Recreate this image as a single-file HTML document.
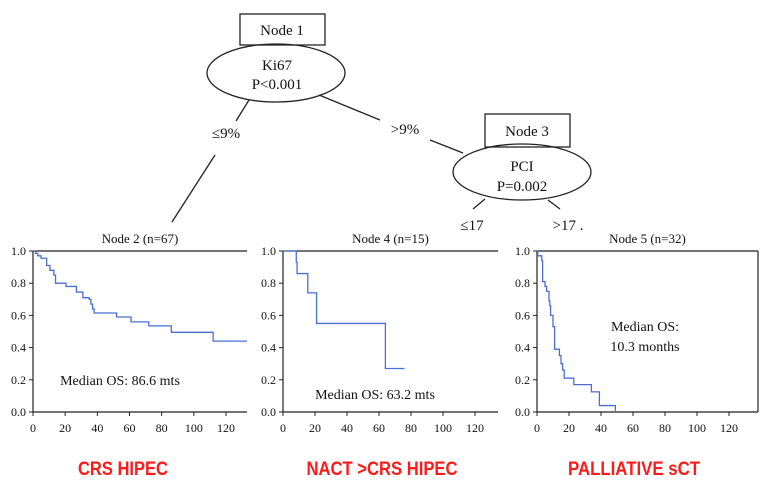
<!DOCTYPE html>
<html><head><meta charset="utf-8"><style>
html,body{margin:0;padding:0;background:#fff;}
svg{display:block;font-family:"Liberation Serif",serif;}
</style></head><body>
<svg id="chart" width="768" height="490" viewBox="0 0 768 490" xmlns="http://www.w3.org/2000/svg">
<g stroke="#222" fill="none" stroke-width="1.3">
  <rect x="240" y="14" width="85" height="31" fill="#fff"/>
  <ellipse cx="276" cy="73" rx="69" ry="29"/>
  <line x1="249" y1="100" x2="236" y2="121"/>
  <line x1="215" y1="155" x2="172" y2="222"/>
  <line x1="319" y1="95" x2="380" y2="120"/>
  <line x1="430" y1="140" x2="463" y2="153"/>
  <rect x="485" y="114" width="85" height="33" fill="#fff"/>
  <ellipse cx="522" cy="172" rx="69" ry="28"/>
  <line x1="485" y1="199" x2="473" y2="209"/>
  <line x1="548" y1="200" x2="560" y2="209"/>
</g>
<g font-size="15" fill="#111" text-anchor="middle">
  <text x="282" y="35">Node 1</text>
  <text x="277" y="70">Ki67</text>
  <text x="277" y="89">P&lt;0.001</text>
  <text x="226" y="138">≤9%</text>
  <text x="405" y="134">&gt;9%</text>
  <text x="527" y="136">Node 3</text>
  <text x="522" y="171">PCI</text>
  <text x="522" y="191">P=0.002</text>
  <text x="472" y="230">≤17</text>
  <text x="568" y="230">&gt;17 .</text>
</g>
<g id="panels"></g>
<g font-family="'Liberation Sans',sans-serif" font-weight="bold" font-size="19" fill="#ff1a1a" text-anchor="middle">
  <text x="123" y="475" textLength="90" lengthAdjust="spacingAndGlyphs">CRS HIPEC</text>
  <text x="382" y="475" textLength="151" lengthAdjust="spacingAndGlyphs">NACT &gt;CRS HIPEC</text>
  <text x="634" y="475" textLength="132" lengthAdjust="spacingAndGlyphs">PALLIATIVE sCT</text>
</g>
</svg>
<script>
const xTicks = [0,20,40,60,80,100,120];
const yTicks = [0,0.2,0.4,0.6,0.8,1.0];
const yTickLabels = ["0.0","0.2","0.4","0.6","0.8","1.0"];
const node2Times = [0,1.5,3,5,8.5,10.5,13,14,20.5,27,31,35,36,37,38,52,61,72,86,112,133];
const node2Surv  = [1,0.985,0.97,0.955,0.91,0.88,0.85,0.80,0.78,0.745,0.71,0.70,0.67,0.64,0.615,0.59,0.56,0.535,0.495,0.44,0.44];
const node4Times = [0,8.3,8.8,15.5,21,64,76];
const node4Surv  = [1,0.93,0.86,0.74,0.55,0.27,0.27];
const node5Times = [0,0.5,3,3.5,5,6,7.5,8,8.5,10,11,14,15,16,17,23,34,39,49];
const node5Surv  = [1,0.97,0.94,0.81,0.78,0.75,0.69,0.66,0.6,0.53,0.39,0.35,0.30,0.26,0.21,0.17,0.125,0.04,0.0];
const panelTitles = ["Node 2 (n=67)","Node 4 (n=15)","Node 5 (n=32)"];

const NS="http://www.w3.org/2000/svg";
const root=document.getElementById('panels');
function mk(tag,attrs,parent,txt){const e=document.createElementNS(NS,tag);for(const k in attrs)e.setAttribute(k,attrs[k]);if(txt!==undefined)e.textContent=txt;parent.appendChild(e);return e;}
const panels=[
 {x0:33,x120:226,right:247,times:node2Times,surv:node2Surv,name:'node-2',box:false,med:["Median OS: 86.6 mts"],mx:120,my:385},
 {x0:283,x120:475,right:498,times:node4Times,surv:node4Surv,name:'node-4',box:false,med:["Median OS: 63.2 mts"],mx:375,my:399},
 {x0:537,x120:729,right:758,times:node5Times,surv:node5Surv,name:'node-5',box:true,med:["Median OS:","10.3 months"],mx:645,my:331},
];
const yTop=251, yBot=412;
panels.forEach((p,i)=>{
  const g=mk('g',{},root);
  
  
  const sx=t=>p.x0+(t/120)*(p.x120-p.x0);
  const sy=v=>yBot-v*(yBot-yTop);
  const title=mk('text',{x:(p.x0+p.right)/2,y:yTop-8,'font-size':13,'text-anchor':'middle',fill:'#111'},g,panelTitles[i]);
  
  
  const yAxis=mk('line',{x1:p.x0,y1:yTop,x2:p.x0,y2:yBot,stroke:'#222','stroke-width':1.2},g);
  
  
  const xAxis=mk('line',{x1:p.x0,y1:yBot,x2:p.right,y2:yBot,stroke:'#222','stroke-width':1.2},g);
  
  
  const top=mk('line',{x1:p.x0,y1:yTop,x2:p.right,y2:yTop,stroke:'#222','stroke-width':1.2},g);
  
  
  if(p.box){const r=mk('line',{x1:p.right,y1:yTop,x2:p.right,y2:yBot,stroke:'#222','stroke-width':1.2},g);
    
    }
  yTicks.forEach((v,j)=>{
    mk('line',{x1:p.x0-4,y1:sy(v),x2:p.x0,y2:sy(v),stroke:'#222'},g);
    const t=mk('text',{x:p.x0-7,y:sy(v)+4,'font-size':12,'text-anchor':'end',fill:'#111'},g,yTickLabels[j]);
    
    
  });
  xTicks.forEach(v=>{
    mk('line',{x1:sx(v),y1:yBot,x2:sx(v),y2:yBot+4,stroke:'#222'},g);
    const t=mk('text',{x:sx(v),y:yBot+20,'font-size':12,'text-anchor':'middle',fill:'#111'},g,String(v));
    
    
  });
  let d='M'+sx(p.times[0])+','+sy(p.surv[0]);
  for(let k=1;k<p.times.length;k++){d+=' H'+sx(p.times[k])+' V'+sy(p.surv[k]);}
  const path=mk('path',{d:d,fill:'none',stroke:'#4a6fd0','stroke-width':1.3},g);
  
  
  p.med.forEach((line,k)=>{
    const t=mk('text',{x:p.mx,y:p.my+k*20,'font-size':14,'text-anchor':'middle',fill:'#111'},g,line);
    
    
  });
});
</script>
</body></html>
